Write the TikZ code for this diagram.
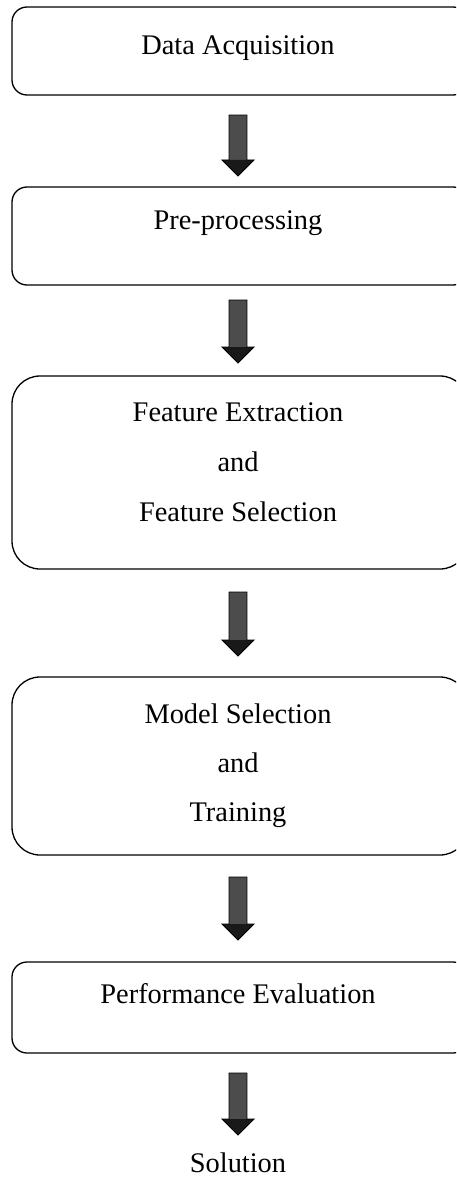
\documentclass[tikz,border=0pt]{standalone}
\usepackage{fontspec}
\setmainfont{Liberation Serif}
\usetikzlibrary{calc}
\tikzset{
  box/.style={draw=black, line width=1.3pt, minimum width=456pt, inner sep=0pt},
  lbl/.style={font=\fontsize{28.4}{34}\selectfont, inner sep=0pt, anchor=base},
  shaftfill/.style={fill=black!70},
  headfill/.style={fill=black!90},
  arrowline/.style={draw=black, line width=0.9pt, line join=miter},
}
\newcommand{\blockarrow}[2]{%
  \fill[shaftfill] ($(#1)+(-9,0)$) -- ($(#1)+(9,0)$) -- ($(#2)+(9,-16)$) -- ($(#2)+(-9,-16)$) -- cycle;
  \fill[headfill] ($(#2)+(-16,-16)$) -- ($(#2)+(16,-16)$) -- (#2) -- cycle;
  \draw[arrowline] ($(#1)+(-9,0)$) -- ($(#1)+(9,0)$) -- ($(#2)+(9,-16)$) -- ($(#2)+(16,-16)$)
     -- (#2) -- ($(#2)+(-16,-16)$) -- ($(#2)+(-9,-16)$) -- cycle;
}
\begin{document}
\begin{tikzpicture}[x=1pt,y=-1pt]
\useasboundingbox (0,0) rectangle (456,1177);
\clip (0,0) rectangle (456,1177);

% boxes
\node[box, minimum height=88pt, rounded corners=15pt]  (b1) at (240,51)    {};
\node[box, minimum height=98pt, rounded corners=15pt]  (b2) at (240,236)   {};
\node[box, minimum height=193pt, rounded corners=28pt] (b3) at (240,472.5) {};
\node[box, minimum height=178pt, rounded corners=28pt] (b4) at (240,766)   {};
\node[box, minimum height=91pt, rounded corners=15pt]  (b5) at (240,1007.5){};

% texts
\node[lbl] (t1)  at (238,55)   {Data Acquisition};
\node[lbl] (t2)  at (238,229)  {Pre-processing};
\node[lbl] (t3a) at (238,421)  {Feature Extraction};
\node[lbl] (t3b) at (238,471)  {and};
\node[lbl] (t3c) at (238,521)  {Feature Selection};
\node[lbl] (t4a) at (238,723)  {Model Selection};
\node[lbl] (t4b) at (238,772)  {and};
\node[lbl] (t4c) at (238,821)  {Training};
\node[lbl] (t5)  at (238,1003) {Performance Evaluation};
\node[lbl] (t6)  at (238,1172) {Solution};

% arrow ends
\coordinate (a1s) at (238,115);  \coordinate (a1e) at (238,176);
\coordinate (a2s) at (238,300);  \coordinate (a2e) at (238,363);
\coordinate (a3s) at (238,592);  \coordinate (a3e) at (238,656);
\coordinate (a4s) at (238,877);  \coordinate (a4e) at (238,940);
\coordinate (a5s) at (238,1073); \coordinate (a5e) at (238,1135);

\blockarrow{a1s}{a1e}
\blockarrow{a2s}{a2e}
\blockarrow{a3s}{a3e}
\blockarrow{a4s}{a4e}
\blockarrow{a5s}{a5e}
\end{tikzpicture}
\end{document}
